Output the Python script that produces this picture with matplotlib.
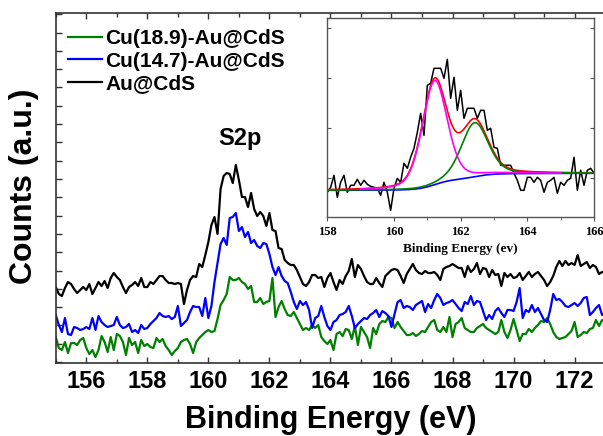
import numpy as np
import matplotlib.pyplot as plt

# main S2p spectra, 0.1 eV steps from 155 to 173 eV (counts in arbitrary units)
energy = np.round(np.arange(155.0, 173.05, 0.1), 1)

au_cds = [75, 68, 66, 74, 80, 78, 73, 69, 72, 75,
          72, 78, 68, 74, 80, 76, 81, 74, 84, 89,
          85, 82, 75, 69, 75, 77, 80, 76, 84, 75,
          75, 80, 78, 82, 86, 86, 82, 79, 79, 78,
          79, 78, 58, 72, 82, 86, 85, 98, 95, 107,
          120, 137, 145, 128, 173, 186, 189, 188, 179, 197,
          182, 165, 165, 155, 169, 153, 146, 150, 146, 136,
          149, 132, 131, 114, 113, 102, 99, 97, 97, 92,
          85, 78, 76, 80, 87, 87, 84, 85, 75, 84,
          89, 80, 72, 82, 78, 86, 91, 103, 85, 97,
          93, 86, 80, 78, 78, 84, 79, 75, 86, 89,
          92, 93, 92, 86, 79, 88, 93, 98, 92, 89,
          88, 91, 89, 89, 90, 87, 82, 93, 95, 96,
          98, 96, 94, 94, 85, 96, 90, 93, 99, 88,
          94, 93, 85, 92, 87, 88, 76, 89, 85, 88,
          84, 85, 89, 82, 86, 90, 85, 88, 90, 86,
          82, 76, 80, 86, 95, 101, 96, 101, 97, 99,
          97, 107, 96, 98, 100, 94, 97, 95, 88, 90,
          90]

cu147 = [47, 37, 30, 44, 28, 27, 35, 34, 32, 33,
         35, 33, 44, 32, 46, 40, 37, 35, 36, 37,
         45, 37, 34, 35, 38, 30, 32, 29, 37, 33,
         34, 38, 41, 44, 49, 46, 45, 46, 43, 45,
         56, 36, 39, 42, 50, 56, 55, 55, 46, 64,
         44, 56, 80, 99, 118, 124, 117, 144, 145, 149,
         131, 135, 125, 130, 119, 122, 116, 114, 119, 118,
         108, 95, 87, 95, 86, 81, 79, 70, 60, 53,
         61, 57, 60, 52, 34, 44, 46, 56, 45, 36,
         32, 40, 42, 47, 48, 50, 56, 46, 34, 38,
         41, 44, 43, 47, 49, 52, 45, 51, 49, 46,
         35, 48, 60, 62, 54, 56, 55, 52, 57, 59,
         61, 50, 58, 54, 62, 68, 64, 57, 59, 60,
         62, 58, 54, 51, 60, 58, 66, 57, 61, 60,
         51, 42, 47, 43, 51, 54, 49, 45, 52, 52,
         51, 60, 74, 44, 52, 50, 57, 50, 54, 48,
         42, 40, 52, 68, 62, 63, 60, 56, 55, 57,
         59, 56, 59, 64, 65, 47, 50, 54, 57, 47,
         50]

cu189 = [25, 14, 12, 20, 9, 19, 19, 17, 22, 24,
         14, 8, 12, 5, 12, 26, 20, 10, 25, 12,
         28, 26, 20, 7, 24, 17, 20, 9, 22, 16,
         18, 15, 14, 24, 20, 23, 16, 12, 7, 11,
         14, 20, 22, 23, 18, 9, 20, 24, 27, 30,
         32, 30, 31, 43, 57, 62, 68, 85, 82, 82,
         84, 80, 78, 73, 76, 60, 60, 64, 58, 60,
         61, 84, 45, 55, 61, 53, 47, 46, 50, 44,
         38, 32, 34, 32, 37, 34, 37, 25, 21, 18,
         22, 12, 28, 30, 26, 33, 32, 23, 36, 17,
         35, 30, 25, 14, 34, 28, 38, 41, 40, 45,
         44, 34, 40, 35, 31, 27, 27, 29, 26, 28,
         31, 30, 35, 40, 42, 32, 30, 35, 30, 45,
         25, 38, 40, 44, 34, 32, 30, 30, 34, 36,
         38, 34, 32, 30, 28, 30, 42, 30, 24, 32,
         43, 32, 21, 28, 28, 33, 30, 34, 37, 41,
         40, 44, 38, 30, 25, 23, 24, 25, 28, 31,
         40, 25, 27, 30, 29, 33, 34, 42, 36, 42,
         40]

# inset: Au@CdS S2p region with peak fit
inset_energy = np.round(np.arange(158.0, 166.05, 0.1), 1)
inset_counts = [25, 30, 42, 20, 35, 42, 25, 32, 32, 38,
                32, 37, 33, 31, 30, 29, 22, 35, 25, 7,
                29, 39, 35, 54, 49, 60, 69, 85, 104, 82,
                132, 134, 149, 149, 149, 139, 158, 119, 140, 107,
                127, 99, 109, 109, 109, 99, 107, 107, 87, 89,
                70, 69, 52, 52, 52, 52, 44, 37, 27, 27,
                40, 40, 35, 40, 37, 25, 35, 37, 40, 24,
                35, 32, 37, 39, 60, 27, 47, 32, 47, 49,
                44]

# fit parameters (S2p3/2, S2p1/2) and Shirley background levels
peak_centers = [161.22, 162.42]
peak_heights = [104, 54]
peak_fwhm = [0.88, 0.95]
lorentz_frac = 0.3
bg_low, bg_high = 27, 44


def pseudo_voigt(x, c, h, w):
    g = np.exp(-4 * np.log(2) * ((x - c) / w) ** 2)
    l = 1 / (1 + 4 * ((x - c) / w) ** 2)
    return h * ((1 - lorentz_frac) * g + lorentz_frac * l)


xf = np.linspace(158, 166, 801)
p1 = pseudo_voigt(xf, peak_centers[0], peak_heights[0], peak_fwhm[0])
p2 = pseudo_voigt(xf, peak_centers[1], peak_heights[1], peak_fwhm[1])
area = np.cumsum(p1 + p2)
bg = bg_low + (bg_high - bg_low) * area / area[-1]

sans = ['Liberation Sans', 'DejaVu Sans']
serif = ['Liberation Serif', 'DejaVu Serif']

fig = plt.figure(figsize=(6.03, 4.36), dpi=100)
ax = fig.add_axes([0.0925, 0.1674, 0.911, 0.8028])

ax.plot(energy, cu189, color='#008000', lw=1.6, label='Cu(18.9)-Au@CdS')
ax.plot(energy, cu147, color='#0000ff', lw=1.6, label='Cu(14.7)-Au@CdS')
ax.plot(energy, au_cds, color='black', lw=1.6, label='Au@CdS')

ax.set_xlim(155, 173)
ax.set_ylim(-1, 349)
ax.set_xticks(np.arange(156, 173, 2))
ax.set_xticks(np.arange(155, 174, 1), minor=True)
ax.set_yticks(np.arange(0, 349, 18.3))
ax.set_yticklabels([])
ax.tick_params(which='both', direction='in', top=True, width=1, colors='#333333')
ax.tick_params(which='major', length=4)
ax.tick_params(which='minor', length=3)
ax.tick_params(axis='x', labelcolor='black', pad=5)
for lab in ax.get_xticklabels():
    lab.set_family(sans)
    lab.set_fontweight('bold')
    lab.set_fontsize(17)
for sp in ax.spines.values():
    sp.set_color('#333333')
    sp.set_linewidth(1.2)

# axis titles placed in figure pixels
fig.text(331 / 603, 1 - 428 / 436, 'Binding Energy (eV)', family=sans,
         fontweight='bold', fontsize=22, ha='center', va='baseline')
fig.text(24 / 603, 1 - 186 / 436, 'Counts (a.u.)', family=sans,
         fontweight='bold', fontsize=23, ha='center', va='center', rotation=90)

leg = ax.legend(loc='upper left', bbox_to_anchor=(68 / 603, 1 - 29 / 436),
                bbox_transform=fig.transFigure, frameon=False,
                prop={'family': sans, 'weight': 'bold', 'size': 15},
                handlelength=1.65, handletextpad=0.15, labelspacing=0.18,
                borderpad=0, borderaxespad=0)

fig.text(240 / 603, 1 - 139 / 436, 'S2p', family=sans, fontweight='bold',
         fontsize=17, ha='center', va='center')

# inset
axin = fig.add_axes([0.5428, 0.5016, 0.4423, 0.4564])
axin.plot(inset_energy, inset_counts, color='black', lw=1.1)
axin.plot(xf, bg, color='#0000ff', lw=1.2)
axin.plot(xf, bg + p1 + p2, color='#ff0000', lw=1.2)
axin.plot(xf, bg + p2, color='#008000', lw=1.2)
sel = (xf >= 159.0) & (xf <= 165.0)
axin.plot(xf[sel], (bg + p1)[sel], color='#ff00ff', lw=1.2)

axin.set_xlim(158, 166)
axin.set_ylim(0, 199)
axin.set_xticks(np.arange(158, 167, 2))
axin.set_xticks(np.arange(158, 167, 1), minor=True)
axin.set_yticks([39, 89, 139, 189])
axin.set_yticklabels([])
axin.tick_params(axis='y', direction='in', right=True, length=3, colors='#555555')
axin.tick_params(axis='x', which='both', direction='out', colors='#555555')
axin.tick_params(axis='x', which='major', length=3, pad=3, labelcolor='black')
axin.tick_params(axis='x', which='minor', length=2)
for lab in axin.get_xticklabels():
    lab.set_family(serif)
    lab.set_fontweight('bold')
    lab.set_fontsize(9)
for sp in axin.spines.values():
    sp.set_color('#555555')
    sp.set_linewidth(1)
axin.set_xlabel('Binding Energy (ev)', family=serif, fontweight='bold',
                fontsize=9.5, labelpad=4)

fig.savefig('out.png', dpi=100)
